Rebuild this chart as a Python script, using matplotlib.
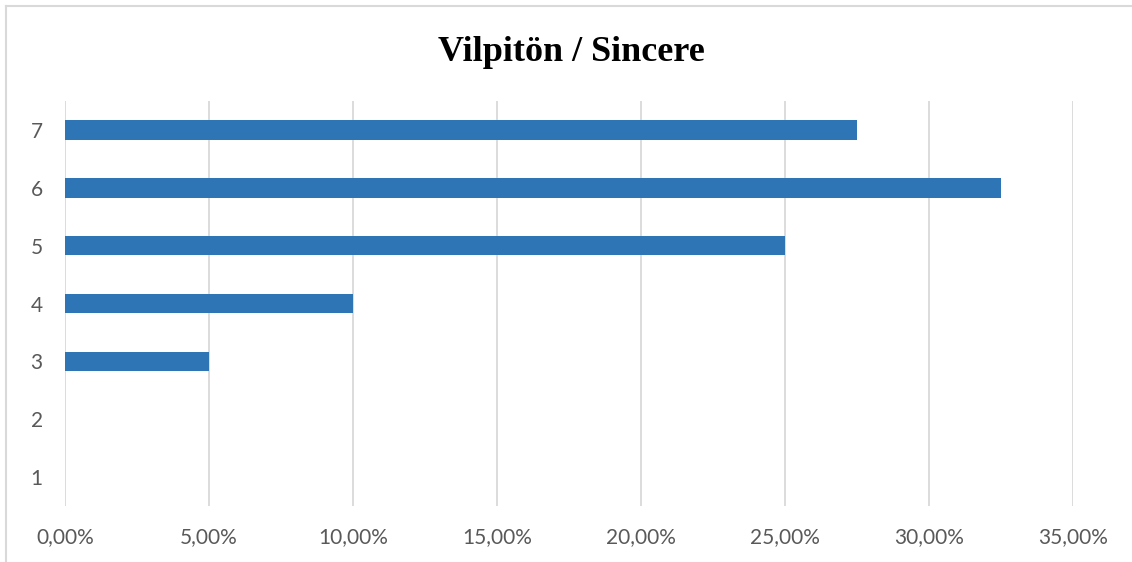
import matplotlib
matplotlib.use("Agg")
import matplotlib.pyplot as plt
from matplotlib.lines import Line2D
from matplotlib.ticker import FuncFormatter, MultipleLocator

# Share of answers per scale point
categories = [1, 2, 3, 4, 5, 6, 7]
shares = [0.0, 0.0, 0.05, 0.10, 0.25, 0.325, 0.275]
title = "Vilpitön / Sincere"

W, H = 1132, 562
fig = plt.figure(figsize=(W / 100, H / 100), dpi=100)
ax = fig.add_axes([65 / W, (H - 506) / H, (1073 - 65) / W, (506 - 101) / H])

ax.barh(categories, shares, height=0.34, color="#2E75B6", zorder=3)

ax.set_xlim(0, 0.35)
ax.set_ylim(0.5, 7.5)
ax.xaxis.set_major_locator(MultipleLocator(0.05))
ax.xaxis.set_major_formatter(FuncFormatter(lambda v, _: f"{v * 100:.2f}%".replace(".", ",")))
ax.set_yticks(categories)
ax.grid(axis="x", color="#D9D9D9", linewidth=1.3, zorder=0)
for s in ax.spines.values():
    s.set_visible(False)
ax.tick_params(length=0, labelsize=15, labelcolor="#595959")
ax.tick_params(axis="x", pad=15)
ax.tick_params(axis="y", pad=16)
for lab in ax.get_xticklabels() + ax.get_yticklabels():
    lab.set_family("Lato")

fig.text(571 / W, 1 - 61 / H, title, ha="center", va="baseline",
         fontsize=26, fontweight="bold", family="Liberation Serif")

# light frame around the chart area
fig.add_artist(Line2D([6 / W, 6 / W], [0, 1 - 6 / H], color="#D9D9D9", linewidth=1.5))
fig.add_artist(Line2D([6 / W, 1], [1 - 6 / H, 1 - 6 / H], color="#D9D9D9", linewidth=1.5))

fig.savefig("out.png", dpi=100)
